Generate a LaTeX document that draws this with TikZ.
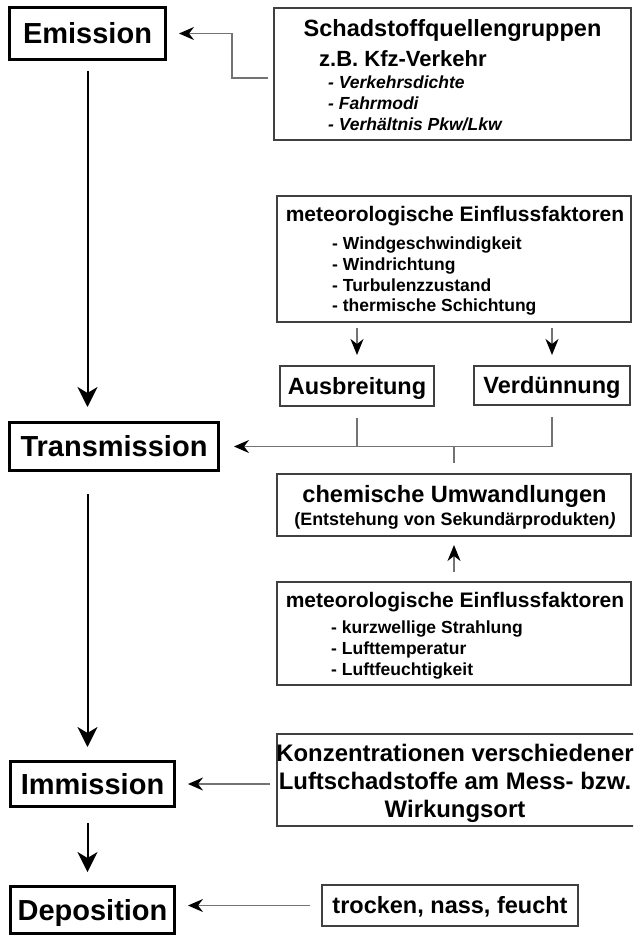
\documentclass[tikz,border=0pt]{standalone}
\usepackage{fontspec}
\setmainfont{Liberation Sans}
\usetikzlibrary{arrows.meta}
\newcommand\fsz[1]{\fontsize{#1}{#1}\selectfont}
\tikzset{
  mainbox/.style={draw=black, line width=3pt, inner sep=0pt, text height=20.8pt, text depth=0pt, font=\fsz{29}\bfseries},
  sidebox/.style={draw=black!75, line width=1.6pt, inner sep=0pt},
  labelbox/.style={sidebox, text height=16.9pt, text depth=0pt, font=\fsz{23.5}\bfseries},
  txt/.style={inner sep=0pt, anchor=base},
  itm/.style={inner sep=0pt, anchor=base west},
  conn/.style={draw=black!55, line width=1.7pt},
  bigarrow/.style={draw=black, line width=2pt, -{Stealth[length=20pt,width=20pt,inset=6pt]}},
  ltip/.style={-{Stealth[length=15pt,width=13pt,inset=5pt,color=black]}},
  stip/.style={-{Stealth[length=16pt,width=13pt,inset=5pt,color=black]}},
}
\begin{document}
\begin{tikzpicture}[x=1pt,y=-1pt]
\useasboundingbox (0,0) rectangle (633,936);
\clip (0,0) rectangle (633,936);
\fill[white] (0,0) rectangle (633,936);

% main column
\node[mainbox, minimum width=156pt, minimum height=52pt] (emi) at (87.5,33.5) {Emission};
\node[mainbox, minimum width=209pt, minimum height=48pt] (trans) at (114,446.5) {Transmission};
\node[mainbox, minimum width=164pt, minimum height=45pt] (imm) at (92.5,784) {Immission};
\node[mainbox, minimum width=164pt, minimum height=47pt] (dep) at (92.5,910) {Deposition};

% side boxes
\node[sidebox, minimum width=357.4pt, minimum height=132.4pt] (schad) at (452.5,74) {};
\node[sidebox, minimum width=354.4pt, minimum height=126.4pt] (met1) at (454,259) {};
\node[labelbox, minimum width=154.4pt, minimum height=40.4pt] (ausb) at (357,386) {Ausbreitung};
\node[labelbox, minimum width=156.4pt, minimum height=39.4pt] (verd) at (552,385.5) {Verdünnung};
\node[sidebox, minimum width=354.4pt, minimum height=62.4pt] (chem) at (454,505) {};
\node[sidebox, minimum width=354.4pt, minimum height=103.4pt] (met2) at (454,633.5) {};
\node[sidebox, minimum width=367pt, minimum height=92.4pt] (konz) at (460.4,780) {};
\node[labelbox, minimum width=256.4pt, minimum height=41.4pt] (trock) at (450,905.5) {trocken, nass, feucht};

% texts in Schadstoff box
\node[txt, font=\fsz{23.5}\bfseries] (schadT) at (452.5,36.5) {Schadstoffquellengruppen};
\node[itm, font=\fsz{22}\bfseries] (kfz) at (319,67) {z.B. Kfz-Verkehr};
\node[itm, font=\fsz{17.5}\bfseries\itshape] (v1) at (328,89) {- Verkehrsdichte};
\node[itm, font=\fsz{17.5}\bfseries\itshape] (v2) at (328,110) {- Fahrmodi};
\node[itm, font=\fsz{17.5}\bfseries\itshape] (v3) at (328,131) {- Verhältnis Pkw/Lkw};

% texts in met1
\node[txt, font=\fsz{21}\bfseries] (m1t) at (455,221) {meteorologische Einflussfaktoren};
\node[itm, font=\fsz{17.5}\bfseries] (m1a) at (332,249) {- Windgeschwindigkeit};
\node[itm, font=\fsz{17.5}\bfseries] (m1b) at (332,270) {- Windrichtung};
\node[itm, font=\fsz{17.5}\bfseries] (m1c) at (332,291) {- Turbulenzzustand};
\node[itm, font=\fsz{17.5}\bfseries] (m1d) at (332,311) {- thermische Schichtung};

% texts in chem
\node[txt, font=\fsz{23.6}\bfseries] (c1) at (454.5,502) {chemische Umwandlungen};
\node[txt, font=\fsz{17.9}\bfseries] (c2) at (455,525) {(Entstehung von Sekundärprodukten\textit{)}};

% texts in met2
\node[txt, font=\fsz{21}\bfseries] (m2t) at (455,607) {meteorologische Einflussfaktoren};
\node[itm, font=\fsz{17.5}\bfseries] (m2a) at (331,633) {- kurzwellige Strahlung};
\node[itm, font=\fsz{17.5}\bfseries] (m2b) at (331,654) {- Lufttemperatur};
\node[itm, font=\fsz{17.5}\bfseries] (m2c) at (331,675) {- Luftfeuchtigkeit};

% texts in konz
\node[txt, font=\fsz{23.9}\bfseries] (k1) at (455,761) {Konzentrationen verschiedener};
\node[txt, font=\fsz{23.9}\bfseries] (k2) at (455,789) {Luftschadstoffe am Mess- bzw.};
\node[txt, font=\fsz{23.9}\bfseries] (k3) at (455,817) {Wirkungsort};

% main arrows
\draw[bigarrow] ([yshift=-10pt]emi.south) -- ([yshift=14pt]emi.south |- trans.north);
\draw[bigarrow] ([yshift=-22pt]emi.south |- trans.south) -- ([yshift=13pt]emi.south |- imm.north);
\draw[bigarrow] ([yshift=-15pt]emi.south |- imm.south) -- ([yshift=13pt]emi.south |- dep.north);

% side connectors
\draw[conn, ltip] ([xshift=-5pt,yshift=-4pt]schad.west) -- ++(-36,0) |- ([xshift=12pt]emi.east);
\draw[conn, stip] ([yshift=-5pt]met1.south -| ausb.north) -- ([yshift=10pt]ausb.north);
\draw[conn, stip] ([yshift=-5pt]met1.south -| verd.north) -- ([yshift=10pt]verd.north);
\draw[conn] ([yshift=-11pt]ausb.south) -- (ausb.south |- trans.east);
\draw[conn, ltip] ([yshift=-11pt]verd.south) |- ([xshift=14pt]trans.east);
\draw[conn] (chem.north |- trans.east) -- ([yshift=10pt]chem.north);
\draw[conn, stip] ([yshift=9pt]met2.north) -- ([yshift=-8pt]chem.south);
\draw[conn, ltip] ([xshift=-6pt]konz.west |- imm.east) -- ([xshift=12pt]imm.east);
\draw[conn, ltip] ([xshift=-11pt]trock.west) -- ([xshift=12pt]dep.east |- trock.west);
\end{tikzpicture}
\end{document}
